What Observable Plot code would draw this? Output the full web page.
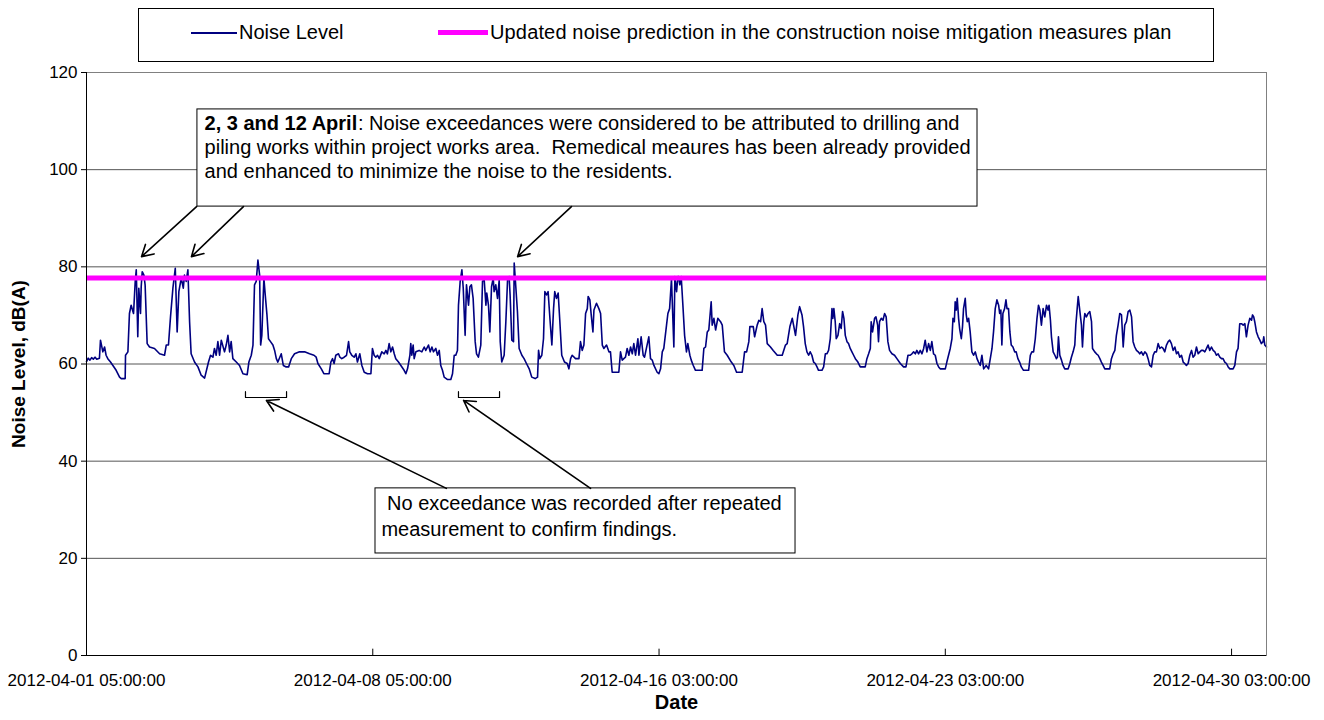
<!DOCTYPE html>
<html>
<head>
<meta charset="utf-8">
<script src="https://cdn.jsdelivr.net/npm/d3@7"></script>
<script src="https://cdn.jsdelivr.net/npm/@observablehq/plot@0.6"></script>
<style>
  html, body { margin: 0; padding: 0; background: #fff; }
  body { width: 1324px; height: 720px; overflow: hidden; font-family: "Liberation Sans", Arial, sans-serif; }
  #legend { position: relative; height: 64px; }
  #legend .box { position: absolute; left: 138px; top: 8px; width: 1076px; height: 54px; border: 1px solid #000; box-sizing: border-box; }
  #legend .sw { position: absolute; }
  #legend .lab { position: absolute; font-size: 20px; line-height: 20px; white-space: nowrap; color: #000; }
  svg text { white-space: pre; }
</style>
</head>
<body>
<div id="legend"></div>
<div id="chart"></div>
<script>
// ---- data ----
const seriesNames = ["Noise Level", "Updated noise prediction in the construction noise mitigation measures plan"];
const seriesColors = ["#000080", "#ff00ff"];
const xTickIndex = [0, 168, 336, 504, 672];           // hourly record index
const xTickLabels = ["2012-04-01 05:00:00", "2012-04-08 05:00:00", "2012-04-16 03:00:00", "2012-04-23 03:00:00", "2012-04-30 03:00:00"];
const lastIndex = 692.5;
const yTicks = [0, 20, 40, 60, 80, 100, 120];
const predictionLevel = 77.7;  // dB(A)

// [record index, dB(A)]
const noisePoints = [
[0,60.5],[1,61.2],[2,60.8],[3,61.3],[4,61],[5,61.4],[6,61],[7.6,61.2],[8.2,64.9],[9.6,62.5],[10.6,63.5],[11.5,61.8],[12.5,61.1],[14.1,60.4],[15.5,59.7],[17.4,58.7],[19.4,57.3],[20.4,57],[22.7,57],[22.9,61.8],[24.3,62.5],[25.2,70.4],[26.2,72.1],[27.6,70.4],[28.6,77],[29.2,79.4],[30.1,65.6],[30.7,75.6],[31.7,70.4],[32.1,75.9],[32.7,79],[33.7,78.3],[34.4,76.3],[35.6,64.2],[37,63.5],[39.9,63.2],[42.9,62.1],[45.8,61.8],[46.8,63.9],[48.1,63.9],[49.3,69.7],[50.7,75.6],[52.1,79.7],[53.2,66.6],[54.2,74.9],[55.6,77.7],[56.8,75.6],[57.5,78.3],[58.5,77],[59.5,79.4],[60.5,68.7],[61.4,62.1],[63.4,60.4],[65.4,59.4],[67.3,57.7],[69.3,57.1],[71.6,60.4],[72.8,61.8],[74.2,61.4],[75.1,63.2],[76.1,61.8],[77.1,64.6],[78.1,61.8],[79.1,64.9],[81,62.5],[82,63.9],[83,65.9],[84,62.5],[84.9,64.6],[85.9,61.1],[87.9,60.4],[89.8,59.7],[91.8,58],[94.3,57.8],[95.3,60.4],[96.7,61.8],[97.7,63.9],[98.6,76.3],[99.6,77],[100.6,81.4],[101.6,78.3],[102.2,63.9],[102.9,65.9],[104.1,77.7],[104.9,74.2],[105.9,70.1],[106.8,65.2],[108,64.6],[109.4,63.9],[110.4,62.8],[111.4,61.1],[112.3,60.4],[114.3,62.1],[115.5,59.7],[117.2,59.4],[118.6,59.4],[120.2,61.1],[122.1,62.1],[125,62.5],[128,62.5],[130.9,62.1],[133.5,61.8],[134.8,61.4],[135.8,60.1],[137.8,59],[139.3,58],
[140.5,58],[142.4,58],[143.4,60.4],[144.4,61.1],[145.3,60.1],[146.3,61.8],[147.9,62.1],[148.7,61.4],[149.8,61.1],[151.2,61.4],[152.6,61.8],[153.8,64.6],[154.5,62.5],[155.7,61.8],[157.1,61.4],[158.1,62.1],[159,60.4],[160.4,62.1],[161.6,59.7],[163,58.3],[164.9,58],[166.9,58],[167.8,63.2],[168.8,61.8],[169.8,61.4],[170.8,61.8],[171.8,61.1],[173.3,62.5],[174.7,62.1],[175.7,62.8],[176.6,62.1],[177.6,64.2],[178.6,62.5],[179.6,63.5],[180.6,62.1],[181.5,61.1],[183.1,60.4],[184.5,59.7],[186.4,58.7],[187.4,58],[188.4,59],[189.8,61.8],[190.3,64.2],[190.9,61.8],[191.7,63.9],[192.3,61.1],[193.3,62.5],[195.2,62.8],[196.8,62.5],[198.2,63.5],[199.1,62.8],[200.7,63.9],[201.7,62.5],[202.7,63.5],[203.6,62.5],[205,63.2],[206,61.8],[207,62.8],[207.9,59.7],[208.9,58.7],[209.9,57.3],[211.9,56.8],[213.8,56.8],[214.8,58],[215.8,61.8],[216.7,61.8],[217.7,62.8],[218.3,72.1],[219.3,77],[220.3,79.4],[221.1,75.6],[222.2,65.9],[223,76.3],[224.2,72.1],[225,75.9],[225.9,76.3],[226.9,73.5],[228.1,64.6],[228.9,62.1],[230,61.4],[231.4,63.9],[232.4,77],[233.4,77.3],[234.4,72.1],[234.9,74.6],[235.9,72.1],[236.7,66.6],[237.7,75.9],[238.7,77.7],[239.2,74.9],[240.2,76.3],[241.2,73.5],[242.2,77.3],[242.8,64.6],[243.7,60.4],[245.1,61.8],[246.1,68.7],[247.1,77.3],[248,78],[248.6,74.2],[249.6,64.9],[250.6,64.6],[251,80.8],[252,75.6],[252.9,70.8],[253.9,63.2],[255.5,61.8],[256.8,61.1],[258.2,60.1],[259.8,59],[261.3,57.3],[263.3,57],[264.7,57.3],[265.3,62.8],[266,61.1],[267.2,61.8],[268.2,65.2],[269,74.9],[270,74.2],[270.9,74.9],[272.1,68.7],[273.1,63.9],[274.1,71.4],[274.8,74.9],[275.8,73.5],[276.8,74.6],[277.8,68.7],[278.9,61.8],
[280.5,60.4],[282.1,60.1],[283.1,59],[284.1,61.1],[285,61.8],[287,61.1],[289,61.1],[289.9,64.6],[290.9,62.8],[291.9,63.9],[292.9,70.4],[293.9,71.4],[294.4,73.9],[295.4,73.2],[296.2,70.1],[297.2,66.6],[297.8,71.1],[299.3,72.5],[300.7,71.4],[301.7,70.4],[302.7,63.9],[303.6,63.2],[305.2,63.9],[306.6,62.5],[307.5,62.5],[308.5,58.3],[312.4,58.3],[313.4,62.5],[314.4,60.8],[316.3,61.4],[317.3,63.2],[318.3,61.8],[319.3,63.5],[320.3,62.1],[321.2,64.2],[322.2,61.8],[323.6,65.2],[324.2,61.8],[325.5,65.6],[326.7,61.8],[327.5,61.4],[330,65.6],[331,61.1],[332,60.8],[333,59.7],[334.9,58.3],[335.9,58],[336.9,59],[337.9,62.5],[338.8,63.2],[340.4,68],[341.2,70.4],[342.2,71.4],[343.3,77.5],[344.7,63.5],[345.3,78],[346.3,74.9],[347.1,78],[347.6,78],[348.2,76.3],[349,78],[350,72.1],[351,65.9],[352.1,62.5],[352.9,64.2],[354.1,61.8],[354.9,60.8],[356.1,59.7],[357.4,58.7],[361.3,58.7],[362.3,63.2],[363.3,63.5],[364.3,66.6],[365.2,67],[366.6,72.8],[367.2,68],[368.2,69.4],[369.2,67],[370.5,69.4],[372.1,68.7],[373.1,68],[374.4,62.5],[376,61.8],[378.4,60.4],[379.9,59.7],[381.5,58.3],[384.8,58.3],[386.2,62.5],[387.4,62.5],[388.7,64.6],[389.3,67.7],[391.3,67.7],[392.1,65.6],[393.6,68],[394.6,69],[395.6,68.7],[396.5,71.4],[397.5,68.7],[398.5,68],[399.5,64.2],[401.4,63.5],[403,62.8],[405.4,61.8],[408.3,61.8],[410.2,63.9],[411.2,64.2],[412.8,67.7],[414.2,69.4],[416.1,65.9],[417.5,70.1],[418.5,71.8],
[419.9,70.1],[420.8,67.7],[421.8,64.2],[422.8,62.5],[423.8,61.8],[424.7,62.5],[425.7,61.8],[426.7,60.4],[427.7,60.1],[428.7,59.4],[429.6,58.7],[431.6,58.7],[432.6,59.4],[433.6,62.1],[434.5,62.1],[435.5,62.8],[436.5,65.2],[437.5,71.4],[438,69.4],[438.6,71.4],[439.4,68.7],[440,65.2],[441,65.9],[442,68.3],[442.9,67.3],[443.7,70.8],[444.5,69.4],[445.3,65.9],[446.3,64.6],[447.2,64.2],[448.2,63.2],[449.2,62.5],[450.2,61.8],[451.2,61.1],[452.7,60.4],[454.1,59.4],[457,59.4],[458,61.1],[459,62.1],[460,63.2],[460.5,68.7],[461.3,66.6],[462.5,69.4],[463.3,69.7],[464.3,68],[464.8,64.6],[465.4,68.7],[466.4,69.4],[467.4,69],[468.4,70.4],[469.3,69.7],[470.3,64.6],[471.3,62.8],[472.7,62.1],[474.2,61.8],[475.6,61.1],[477.6,60.1],[479.5,59.4],[480.9,59.4],[482.1,61.8],[483.4,61.8],[484.4,62.1],[485.4,62.5],[486.4,62.1],[487.3,62.8],[488.3,62.1],[489.3,62.8],[490.3,62.1],[491.3,63.2],[492.2,64.9],[493.2,62.5],[494.2,64.2],[495.2,62.8],[496.1,64.6],[497.1,62.1],[498.1,61.8],[499.1,60.1],[500.1,59.4],[501,59],[504,59],[504.9,60.4],[505.9,61.8],[506.9,63.2],[507.9,65.2],[508.5,69.4],[509.3,68.7],[509.8,72.8],[510.4,71.1],[511,73.5],[511.8,69.4],[512.4,67.3],[513.4,65.2],[514.1,67.7],[514.7,71.4],[515.7,73.5],[516.3,70.1],[516.9,68.7],[517.7,69.4],[518.6,66.6],[519.6,62.5],[520.6,61.8],[521.6,62.5],[522.6,61.1],[523.5,60.4],[524.5,59.7],[525.5,61.8],[526.5,59],[528,59.7],[529.4,59],[530.4,61.1],[531.4,63.2],[532.3,66.6],[533.3,71.4],[534.3,73.2],[535.3,72.1],[535.9,70.4],[536.6,71.1],[537.2,63.9],[537.8,70.4],[538.8,71.4],[539.6,73.2],[540.2,71.4],[541.1,71.4],[541.9,66.6],[542.7,63.9],[543.7,63.5],[544.7,62.5],[545.6,62.5],[546.6,61.1],[547.6,60.4],[548.6,59.4],[549.9,58.7],[552.9,58.7],[553.9,61.8],[554.8,62.5],[555.8,62.5],[556.8,65.2],[557.8,69.4],[558.7,72.1],
[559.5,71.1],[560.4,68],[561.4,71.4],[562.4,69.7],[563.4,72.1],[564.3,71.1],[564.9,72.1],[565.7,69],[566.3,65.6],[567.3,62.5],[568.3,61.8],[569.2,61.1],[569.8,61.4],[570.4,65.6],[571.2,61.8],[572.2,60.8],[573.1,59.7],[574.1,59],[576.1,59],[577.1,60.1],[578,61.4],[579,62.5],[580,63.9],[580.6,68],[581.4,71.4],[582,73.9],[582.9,71.1],[583.9,68],[584.5,63.5],[585.3,68.7],[585.9,70.4],[586.8,69.7],[587.8,70.4],[588.8,70.8],[589.8,68.7],[590.4,63.2],[591.7,62.5],[592.7,62.1],[593.7,61.8],[594.7,61.1],[595.6,60.4],[596.6,59.7],[597.6,59],[600.5,59],[601.5,61.1],[602.5,62.1],[603.5,62.8],[604.4,65.9],[605.4,68],[606.4,70.4],[607.4,70.1],[608.4,63.5],[609.3,68],[610.3,68.7],[611.3,70.8],[612.3,71.1],[613.3,69.7],[614.2,64.6],[615.2,63.5],[616.2,62.8],[617.2,62.5],[618.1,62.1],[619.1,62.5],[620.1,61.8],[621.1,62.5],[622.1,62.1],[623,61.1],[624,59.7],[625,59.4],[626,61.8],[626.9,62.5],[627.9,62.5],[628.9,64.2],[629.9,63.2],[630.9,63.5],[631.8,63.2],[632.8,62.5],[633.8,63.9],[634.8,64.6],[635.7,64.9],[636.7,64.2],[637.7,62.8],[638.7,63.5],[639.7,62.1],[640.6,62.5],[641.6,61.4],[642.6,61.8],[643.6,60.4],[644.5,60.1],[645.5,59.7],[646.5,60.1],[647.5,61.8],[648.5,62.8],[649.4,61.4],[650.4,61.8],[651.4,63.5],[652.4,62.1],[653.4,62.5],[654.3,62.8],[655.3,62.8],[656.3,62.5],[657.3,63.2],[658.2,63.9],[659.2,62.8],[660.2,63.5],[661.2,62.8],[662.2,62.5],[663.1,61.8],[664.1,62.1],[665.1,61.4],[666.1,61.1],[667,61.1],[668,60.4],[669,60.1],[670,59.4],[671,59],[672.9,59],[673.9,59.7],[674.9,62.5],[675.8,63.2],[676.8,68.3],[677.8,68.3],[678.8,68],[679.8,68.3],[680.7,65.6],[681.7,68],[682.7,69.4],[683.7,69],[684.3,70.1],[685,69.7],[685.6,68.7],[686.6,66.6],[687.6,65.6],[688.6,64.9],[689.5,64.2],[690.5,64.6],[690.9,65.6],[691.5,63.9],[692.5,63.5]
];

// ---- annotations (in chart coordinates: record index, dB(A)) ----
const noteBoxes = [
  {x1: 65.1, x2: 522.9, y1: 92.4, y2: 112.4},
  {x1: 169.6, x2: 416.1, y1: 21.0, y2: 34.4}
];
const noteArrows = [
  {x1: 64.6, y1: 92.4, x2: 32.3, y2: 82.1},
  {x1: 92.1, y1: 92.4, x2: 61.6, y2: 82.1},
  {x1: 284.6, y1: 92.4, x2: 253.0, y2: 82.1},
  {x1: 211.2, y1: 34.4, x2: 105.6, y2: 52.5},
  {x1: 295.8, y1: 34.4, x2: 221.3, y2: 52.5}
];
const brackets = [
  {id: "b1", from: 93.3, to: 117.4, y: 53.1, top: 54.3},
  {id: "b2", from: 218.3, to: 242.4, y: 53.1, top: 54.3}
];
const note1Bold = "2, 3 and 12 April";
const note1Lines = [
  ": Noise exceedances were considered to be attributed to drilling and",
  "piling works within project works area.  Remedical meaures has been already provided",
  "and enhanced to minimize the noise to the residents."
];
const note1Pos = {x: 69.3, y: [109.5, 104.6, 99.6]};
const note2Lines = [" No exceedance was recorded after repeated", "measurement to confirm findings."];
const note2Pos = {x: 173.1, y: [31.3, 25.9]};

// ---- legend ----
const FONT = "Liberation Sans, Arial, sans-serif";
const legendBox = document.createElement("div");
legendBox.className = "box";
legendBox.innerHTML = `
  <div class="sw" style="left:52px;top:23px;width:46px;height:2px;background:${seriesColors[0]}"></div>
  <div class="lab" style="left:100px;top:13px">${seriesNames[0]}</div>
  <div class="sw" style="left:299px;top:21px;width:50px;height:5px;background:${seriesColors[1]}"></div>
  <div class="lab" style="left:351px;top:13px;letter-spacing:0.15px">${seriesNames[1]}</div>`;
document.getElementById("legend").appendChild(legendBox);

// width of bold prefix for the mixed-weight first line
const ctx = document.createElement("canvas").getContext("2d");
const noteFont = 20;
ctx.font = `bold ${noteFont}px "Liberation Sans"`;
const boldW = ctx.measureText(note1Bold).width;

const bracketPts = brackets.flatMap(b => [
  {id: b.id, x: b.from, y: b.top}, {id: b.id, x: b.from, y: b.y},
  {id: b.id, x: b.to, y: b.y}, {id: b.id, x: b.to, y: b.top}
]);

const chart = Plot.plot({
  width: 1324,
  height: 656,
  marginTop: 8,
  marginLeft: 86,
  marginRight: 58,
  marginBottom: 65,
  style: {fontFamily: FONT, fontSize: "17px", color: "#000", background: "#fff"},
  x: {type: "linear", domain: [0, lastIndex]},
  y: {domain: [0, 120]},
  marks: [
    Plot.ruleY(yTicks, {stroke: "#555", strokeWidth: 1}),
    Plot.line(noisePoints, {x: d => d[0], y: d => d[1], stroke: seriesColors[0], strokeWidth: 1.6}),
    Plot.ruleY([predictionLevel], {stroke: seriesColors[1], strokeWidth: 5}),
    Plot.frame({stroke: "#808080"}),
    Plot.ruleX([0], {stroke: "#000"}),
    Plot.ruleY([0], {stroke: "#000"}),
    Plot.ruleX(xTickIndex, {y1: 0, y2: 1.3, stroke: "#000"}),
    Plot.axisY({ticks: yTicks, tickSize: 5, tickPadding: 4, fontSize: 17, label: null}),
    Plot.axisX({ticks: xTickIndex, tickFormat: d => xTickLabels[xTickIndex.indexOf(d)], tickSize: 0, tickPadding: 18, fontSize: 17, label: null}),
    Plot.text(["Date"], {frameAnchor: "bottom", dy: 53, fontWeight: "bold", fontSize: 20}),
    Plot.text(["Noise Level, dB(A)"], {frameAnchor: "left", textAnchor: "middle", dx: -68, rotate: -90, fontWeight: "bold", fontSize: 19}),
    // annotation boxes
    Plot.rect(noteBoxes, {x1: "x1", x2: "x2", y1: "y1", y2: "y2", fill: "#fff", stroke: "#000", strokeWidth: 1}),
    Plot.arrow(noteArrows, {x1: "x1", y1: "y1", x2: "x2", y2: "y2", stroke: "#000", strokeWidth: 1.6, headLength: 12}),
    Plot.line(bracketPts, {x: "x", y: "y", z: "id", stroke: "#000", strokeWidth: 1.2}),
    Plot.text([note1Bold], {x: note1Pos.x, y: note1Pos.y[0], textAnchor: "start", fontWeight: "bold", fontSize: noteFont}),
    Plot.text([note1Lines[0]], {x: note1Pos.x, y: note1Pos.y[0], dx: boldW, textAnchor: "start", fontSize: noteFont}),
    Plot.text(note1Lines.slice(1), {x: note1Pos.x, y: (d, i) => note1Pos.y[i + 1], textAnchor: "start", fontSize: noteFont}),
    Plot.text(note2Lines, {x: note2Pos.x, y: (d, i) => note2Pos.y[i], textAnchor: "start", fontSize: noteFont})
  ]
});
document.getElementById("chart").appendChild(chart);
</script>
</body>
</html>
